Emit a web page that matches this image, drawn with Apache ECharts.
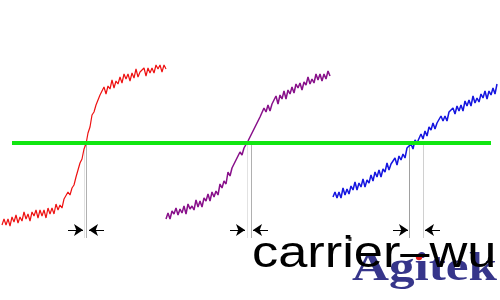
<!DOCTYPE html>
<html>
<head>
<meta charset="utf-8">
<script src="https://cdn.jsdelivr.net/npm/echarts@6/dist/echarts.min.js"></script>
<style>html,body{margin:0;padding:0;background:#fff}#c{width:500px;height:300px}</style>
</head>
<body>
<div id="c"></div>
<script>
// curve samples (y in picture units, x from start with fixed step)
const redStart = 2, purpleStart = 166, blueStart = 333, sampleStep = 2;
const redY = [225,219,225,219,226,217,222,215,223,217,221,212,219,214,221,212,216,210,218,210,216,210,218,208,214,208,214,204,210,205,208,199,201,192,195,188,185,177,175,163,159,149,144,133,127,115,112,105,104,95,97,87,94,86,89,80,88,81,84,77,83,74,79,74,81,73,78,69,77,72,74,68,76,68,73,68,73,65,69,65,72,65,69];
const purpleY = [219,213,219,211,214,208,215,209,213,206,214,204,209,206,210,200,207,201,207,198,201,194,201,192,197,191,195,184,188,181,184,172,176,168,167,160,160,152,155,148,148,141,140,133,135,125,123,117,118,108,112,105,111,104,106,96,104,95,99,91,99,90,94,87,93,84,88,83,90,82,85,77,84,79,83,74,80,74,81,74,79,71,76];
const blueY = [197,192,198,192,198,188,195,189,194,186,190,182,190,183,187,179,187,180,183,175,181,172,177,170,177,169,172,163,170,164,165,158,165,156,160,154,158,148,150,144,149,140,143,141,134,139,131,136,127,130,123,129,123,125,116,121,116,121,112,114,108,114,106,111,105,111,101,106,100,106,96,103,98,102,94,98,91,99,91,95,88,94,84];
const threshold = 143;
const greenSpan = [12, 491];
const guideX = [84, 86, 247, 251, 409, 423];
const guideShade = ['#e2e2e2','#b0b0b0','#e2e2e2','#b0b0b0','#a0a0a0','#d0d0d0'];
const guideBottom = 238;
const arrowY = 230;
const arrowPairs = [[68,83],[104,89],[230,245],[268,253],[393,408],[440,425]];
const label = 'carrier–wu';
const logo = 'Agitek';

const toPts = (start, ys) => ys.map((y, i) => [start + i * sampleStep, y]);

const chart = echarts.init(document.getElementById('c'), null, {renderer: 'canvas'});
const curve = (name, start, ys, color, w) => ({
  name, type: 'line', data: toPts(start, ys), showSymbol: false, symbol: 'none',
  lineStyle: {color, width: w}, z: 3, silent: true
});
chart.setOption({
  animation: false,
  backgroundColor: '#ffffff',
  grid: {left: 0, right: 0, top: 0, bottom: 0},
  xAxis: {type: 'value', min: 0, max: 500, show: false},
  yAxis: {type: 'value', min: 0, max: 300, inverse: true, show: false},
  series: [
    {
      type: 'lines', coordinateSystem: 'cartesian2d', silent: true, z: 1,
      data: guideX.map((x, i) => ({coords: [[x, threshold], [x, guideBottom]], lineStyle: {color: guideShade[i], width: 1, opacity: 1}})),
      lineStyle: {width: 1}
    },
    curve('red', redStart, redY, '#ee1111', 1.2),
    curve('purple', purpleStart, purpleY, '#88108a', 1.5),
    curve('blue', blueStart, blueY, '#1515e0', 1.5),
    {
      type: 'line', data: greenSpan.map(x => [x, threshold]), showSymbol: false, symbol: 'none',
      lineStyle: {color: '#11e611', width: 4}, z: 4, silent: true
    },
    {
      type: 'lines', coordinateSystem: 'cartesian2d', silent: true, z: 5,
      symbol: ['none', 'arrow'], symbolSize: [7, 9],
      data: arrowPairs.map(p => ({coords: [[p[0], arrowY], [p[1], arrowY]]})),
      lineStyle: {color: '#000', width: 1, opacity: 1}
    },
    {
      type: 'scatter', data: [[350, 239]], symbol: 'rect', symbolSize: [3, 4],
      itemStyle: {color: '#111'}, silent: true, z: 5
    }
  ],
  graphic: [
    {
      type: 'text', x: 352, y: 269.5, scaleX: 1.28, z: 10,
      style: {text: logo, x: 0, y: 0, font: 'bold 40px "Liberation Serif"', fill: '#2b2a84', verticalAlign: 'middle', align: 'left', opacity: 0.95}
    },
    {
      type: 'circle', shape: {cx: 419, cy: 257, r: 3.2}, style: {fill: '#e41b1b'}, z: 11
    },
    {
      type: 'text', x: 252, y: 255, scaleX: 1.19, z: 20,
      style: {text: label, x: 0, y: 0, font: '44px "Liberation Sans"', fill: '#000', verticalAlign: 'middle', align: 'left'}
    }
  ]
});
</script>
</body>
</html>
